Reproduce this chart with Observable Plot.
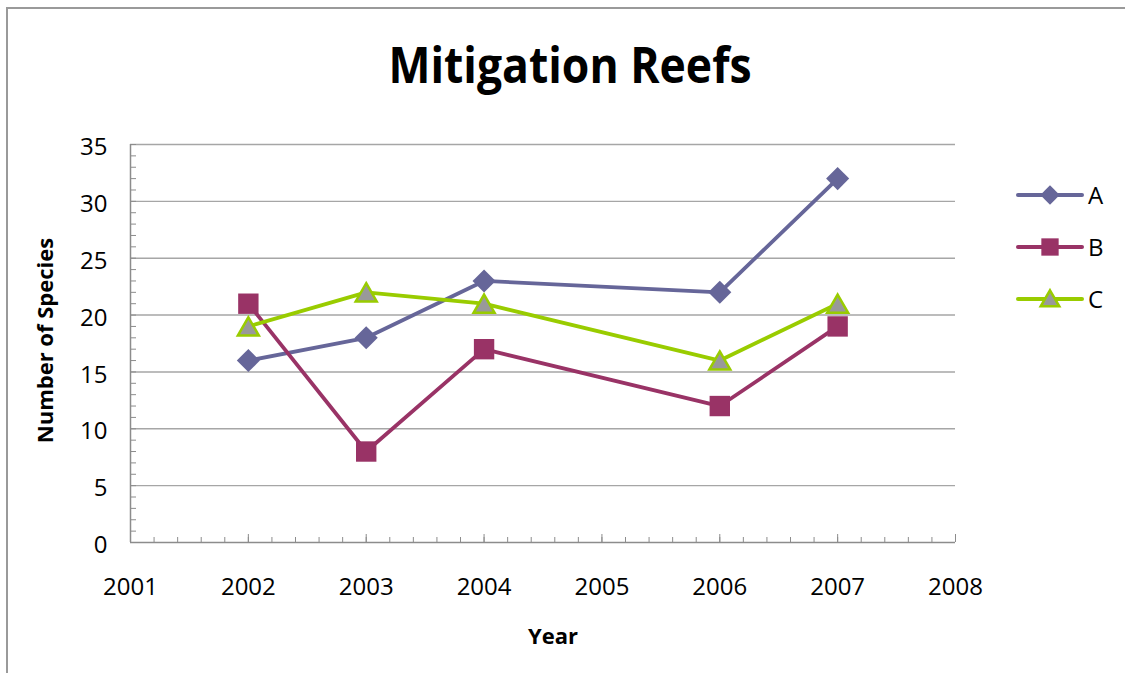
<!DOCTYPE html>
<html>
<head>
<meta charset="utf-8">
<script src="https://cdn.jsdelivr.net/npm/d3@7"></script>
<script src="https://cdn.jsdelivr.net/npm/@observablehq/plot@0.6"></script>
<style>
  html, body { margin: 0; padding: 0; background: #fff; }
  #wrap { position: relative; width: 1125px; height: 673px; overflow: hidden; font-family: "Open Sans", sans-serif; }
  #frame { position: absolute; left: 6px; top: 7px; width: 1200px; height: 800px; border-left: 2px solid #9a9a9a; border-top: 2px solid #9a9a9a; }
  #title { position: absolute; left: 570px; top: 39px; font-size: 50px; line-height: 50px; font-weight: bold; white-space: nowrap; transform: translateX(-50%) scaleX(0.89); }
  #chart { position: absolute; left: 0; top: 0; }
  #legend { position: absolute; left: 1010px; top: 175px; }
  .lg { position: absolute; left: 0; height: 40px; width: 110px; }
  .lg span { position: absolute; left: 78px; top: 0; font-size: 24px; line-height: 40px; }
</style>
</head>
<body>
<div id="wrap">
  <div id="frame"></div>
  <div id="chart"></div>
  <div id="title">Mitigation Reefs</div>
  <div id="legend"></div>
</div>
<script>
const years = [2002, 2003, 2004, 2006, 2007];
const seriesNames = ["A", "B", "C"];
const seriesA = [16, 18, 23, 22, 32];
const seriesB = [21, 8, 17, 12, 19];
const seriesC = [19, 22, 21, 16, 21];
const lineColors = ["#666699", "#993366", "#99cc00"];
const xTicks = [2001, 2002, 2003, 2004, 2005, 2006, 2007, 2008];
const yTicks = [0, 5, 10, 15, 20, 25, 30, 35];
const xTitle = "Year";
const yTitle = "Number of Species";

const allSeries = [seriesA, seriesB, seriesC];
const data = seriesNames.flatMap((s, i) => years.map((yr, j) => ({series: s, year: yr, value: allSeries[i][j]})));
const bySeries = s => data.filter(d => d.series === s);

const xMinor = d3.range(0, 36).map(i => 2001 + i * 0.2);
const yMinor = d3.range(0, 36);

const chart = Plot.plot({
  width: 1125,
  height: 673,
  marginLeft: 130,
  marginRight: 170,
  marginTop: 144,
  marginBottom: 131,
  x: {domain: [2001, 2008]},
  y: {domain: [0, 35]},
  color: {domain: seriesNames, range: lineColors},
  style: {fontFamily: "Open Sans", fontSize: "24px", color: "#000", background: "transparent", overflow: "visible"},
  marks: [
    Plot.gridY(yTicks.filter(d => d > 0), {stroke: "#a6a6a6", strokeOpacity: 1, strokeWidth: 1.4}),
    Plot.axisY(yMinor, {tickSize: -6, tickFormat: () => "", label: null, stroke: "#8c8c8c"}),
    Plot.axisY(yTicks, {tickSize: 0, tickPadding: 23, dy: 3, label: null, fill: "#000"}),
    Plot.axisX(xMinor, {tickSize: -5, tickFormat: () => "", label: null, stroke: "#8c8c8c"}),
    Plot.axisX(xTicks, {tickSize: -8, tickFormat: () => "", label: null, stroke: "#8c8c8c"}),
    Plot.axisX(xTicks, {tickSize: 0, tickPadding: 35, tickFormat: d => String(d), label: null, fill: "#000"}),
    Plot.ruleX([2001], {stroke: "#8c8c8c", strokeWidth: 1.5}),
    Plot.ruleY([0], {stroke: "#8c8c8c", strokeWidth: 1.5}),
    Plot.text([yTitle], {frameAnchor: "left", textAnchor: "middle", rotate: -90, dx: -85, dy: -3, fontWeight: "bold", fontSize: 22}),
    Plot.text([xTitle], {frameAnchor: "bottom", textAnchor: "middle", dx: 10, dy: 101, fontWeight: "bold", fontSize: 22}),
    Plot.line(bySeries("A"), {x: "year", y: "value", stroke: "series", strokeWidth: 3.8}),
    Plot.dot(bySeries("A"), {x: "year", y: "value", symbol: "diamond2", r: 10.4, fill: lineColors[0]}),
    Plot.line(bySeries("B"), {x: "year", y: "value", stroke: "series", strokeWidth: 3.8}),
    Plot.dot(bySeries("B"), {x: "year", y: "value", symbol: "square", r: 11.5, fill: lineColors[1]}),
    Plot.line(bySeries("C"), {x: "year", y: "value", stroke: "series", strokeWidth: 3.8}),
    Plot.dot(bySeries("C"), {x: "year", y: "value", symbol: "triangle", r: 7.8, dy: 3, fill: "#999999", stroke: lineColors[2], strokeWidth: 2.5})
  ]
});
document.getElementById("chart").appendChild(chart);

// Legend
const legend = d3.select("#legend");
const legendSymbols = [
  {type: d3.symbolDiamond2, size: 240, fill: lineColors[0], stroke: "none"},
  {type: d3.symbolSquare, size: 300, fill: lineColors[1], stroke: "none"},
  {type: d3.symbolTriangle, size: 150, fill: "#999999", stroke: lineColors[2]}
];
seriesNames.forEach((name, i) => {
  const row = legend.append("div").attr("class", "lg").style("top", (i * 52) + "px");
  const svg = row.append("svg").attr("width", 80).attr("height", 40);
  svg.append("line").attr("x1", 8).attr("x2", 72).attr("y1", 20).attr("y2", 20)
    .attr("stroke", lineColors[i]).attr("stroke-width", 4).attr("stroke-linecap", "round");
  const s = legendSymbols[i];
  svg.append("path").attr("d", d3.symbol(s.type, s.size)())
    .attr("transform", `translate(40,${i === 2 ? 22 : 20})`)
    .attr("fill", s.fill).attr("stroke", s.stroke).attr("stroke-width", 2.5);
  row.append("span").text(name);
});
</script>
</body>
</html>
